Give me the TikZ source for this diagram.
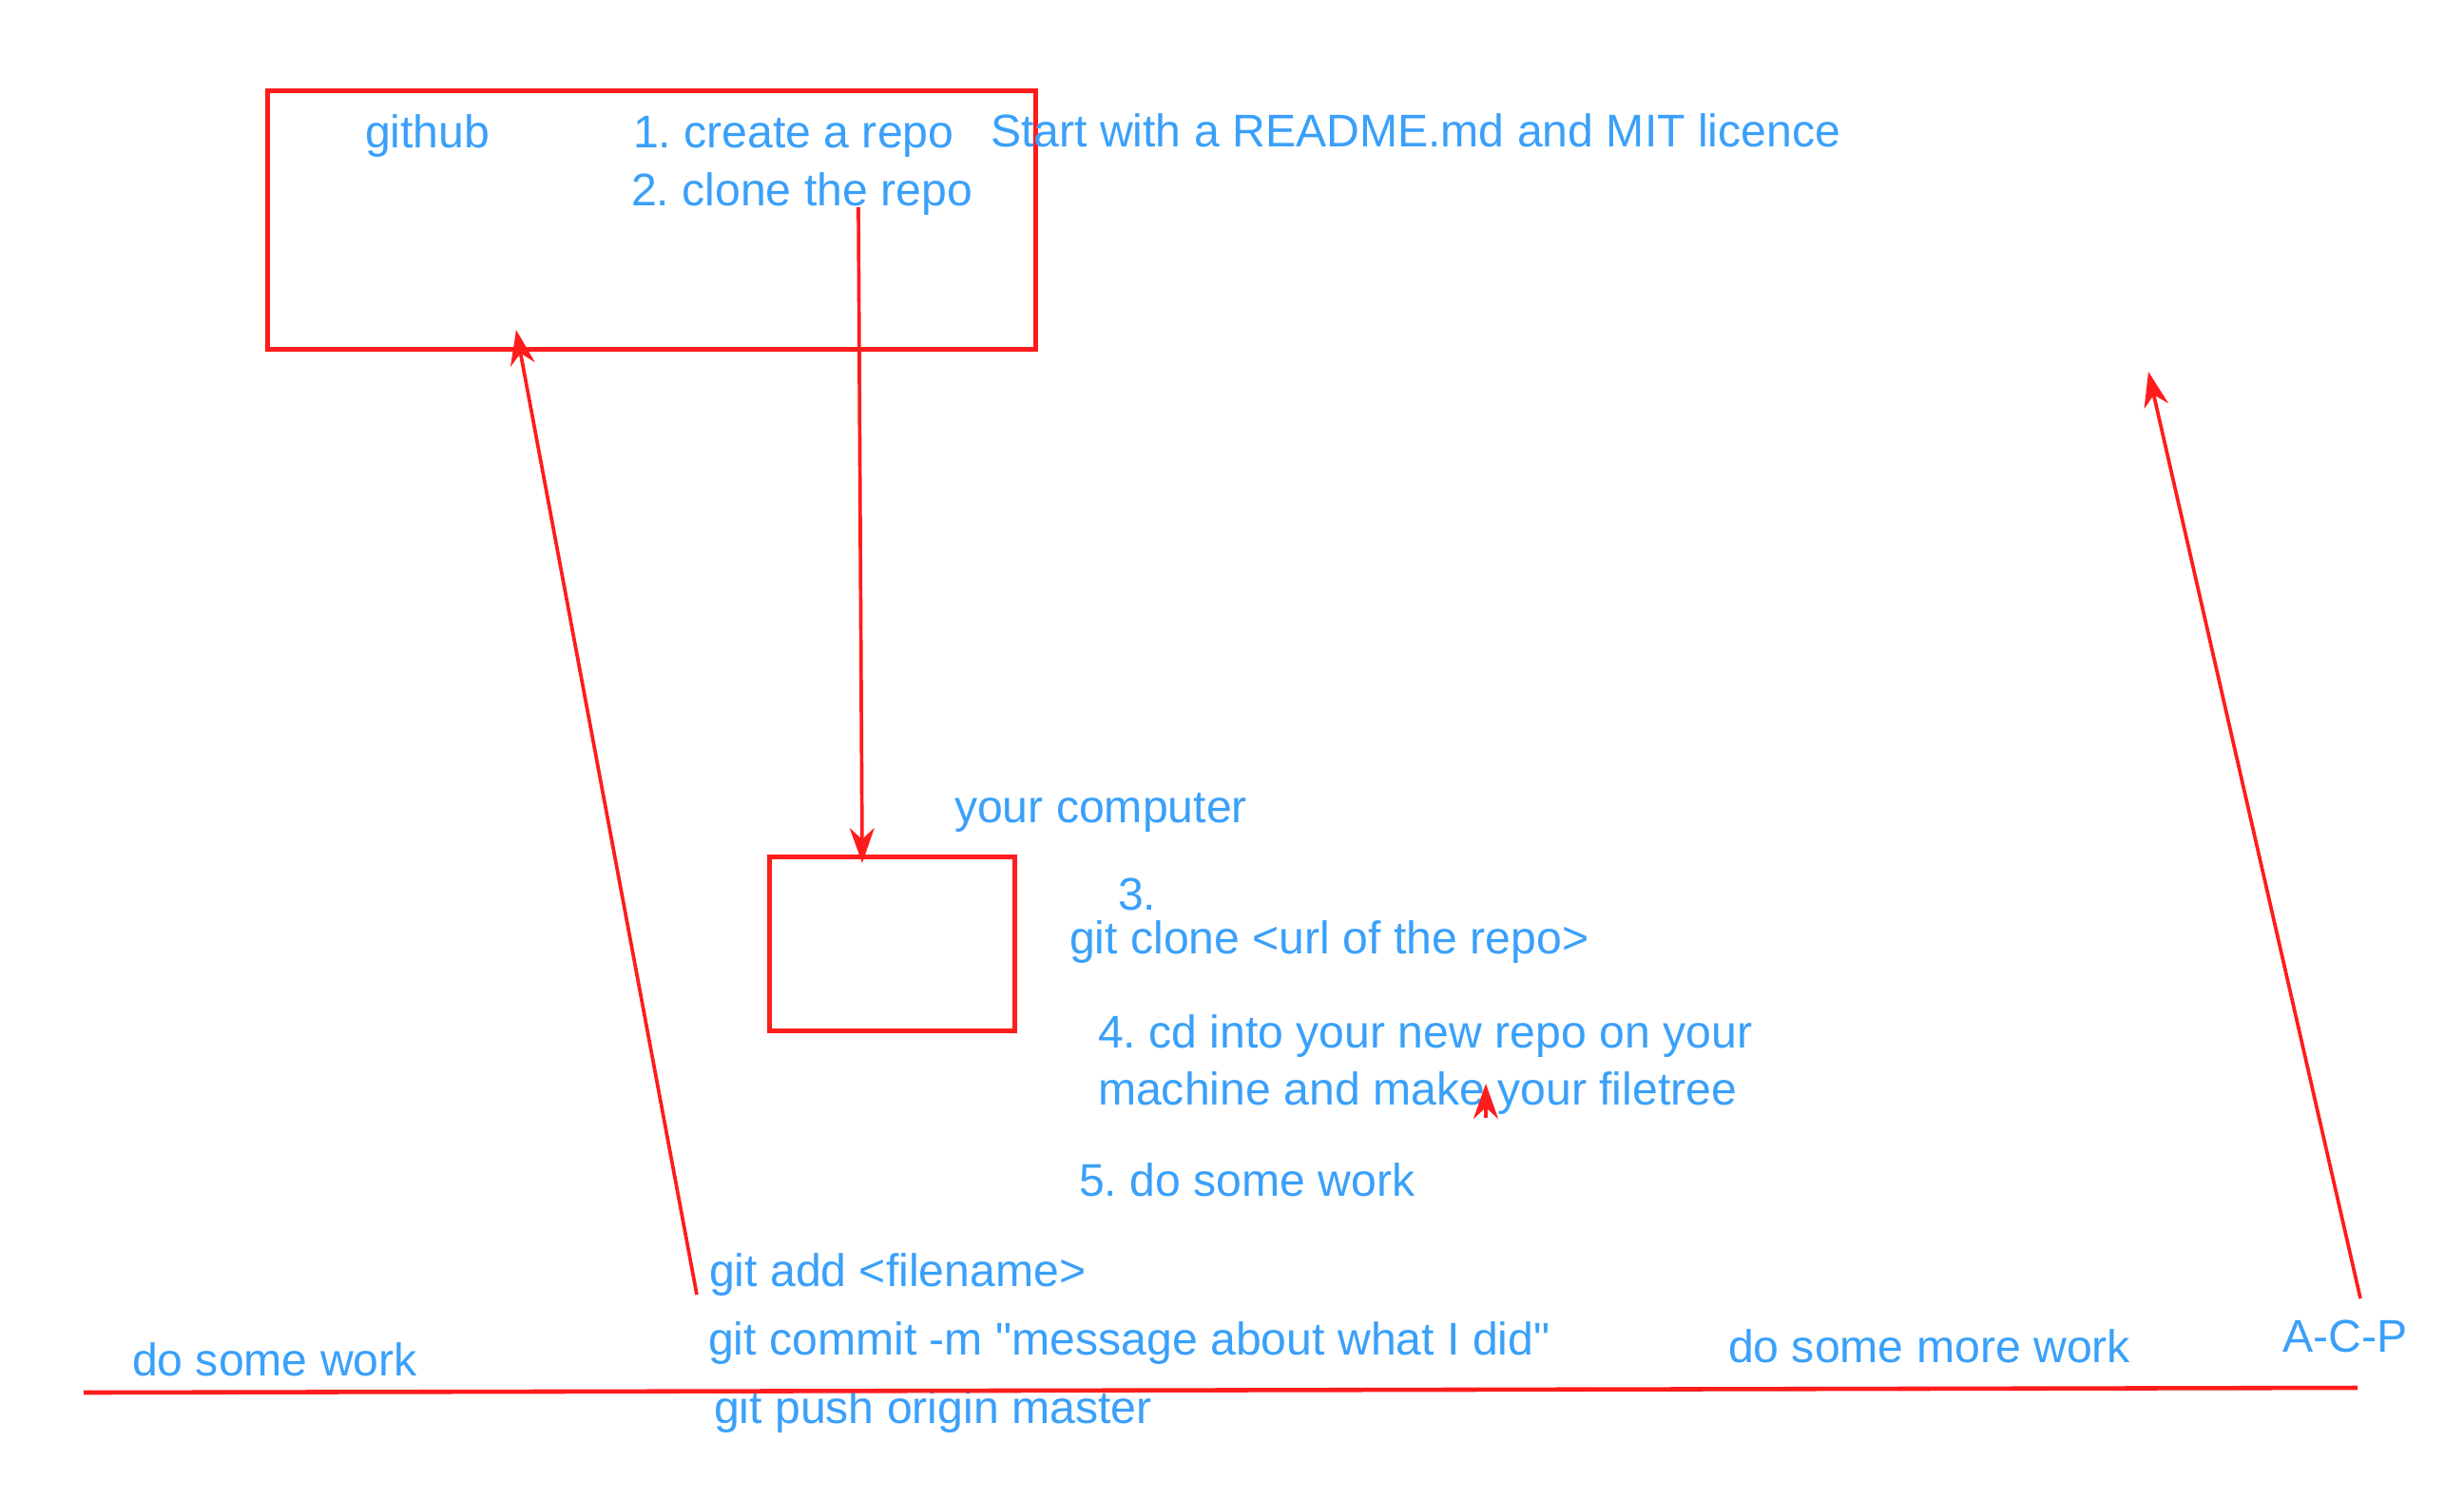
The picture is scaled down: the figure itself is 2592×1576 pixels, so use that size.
\documentclass[tikz,border=0pt]{standalone}
\usepackage{fontspec}
\setmainfont{Liberation Sans}[Ligatures=TeXOff]
\usetikzlibrary{arrows.meta}
\definecolor{txtblue}{RGB}{58,160,250}
\definecolor{linered}{RGB}{255,28,28}
\frenchspacing
\tikzset{
  lbl/.style={anchor=base west, inner sep=0pt, outer sep=0pt, text=txtblue, font=\fontsize{13.7pt}{16pt}\selectfont},
  boxr/.style={draw=linered, line width=1.35pt},
  arr/.style={draw=linered, line width=1.05pt, -{Stealth[length=0.37cm, width=0.26cm, inset=0.12cm]}},
  baseline line/.style={draw=linered, line width=1.3pt}
}
\begin{document}
\begin{tikzpicture}[x=0.01cm, y=-0.01cm]
\useasboundingbox[fill=white] (0,0) rectangle (2592,1576);
% boxes
\node[boxr, rectangle, minimum width=808*0.01cm, minimum height=272*0.01cm, anchor=north west, inner sep=0pt] (github) at (279,93) {};
\node[boxr, rectangle, minimum width=258*0.01cm, minimum height=183*0.01cm, anchor=north west, inner sep=0pt] (comp) at (807,899) {};
% texts
\node[lbl] (tgithub) at (384,156) {github};
\node[lbl] (step1) at (666,156) {1. create a repo};
\node[lbl] (step2) at (664,216) {2. clone the repo};
\node[lbl] (readme) at (1042,154) {Start with a README.md and MIT licence};
\node[lbl] (tcomp) at (1004,865) {your computer};
\node[lbl] (step3) at (1176,957) {3.};
\node[lbl] (gclone) at (1125,1003) {git clone <url of the repo>};
\node[lbl] (step4a) at (1155,1102) {4. cd into your new repo on your};
\node[lbl] (step4b) at (1155,1162) {machine and make your filetree};
\node[lbl] (step5) at (1135,1258) {5. do some work};
\node[lbl] (gadd) at (746,1353) {git add <filename>};
\node[lbl] (gcommit) at (745,1425) {git commit -m "message about what I did"};
\node[lbl] (gpush) at (751,1497) {git push origin master};
\node[lbl] (work1) at (139,1447) {do some work};
\node[lbl] (work2) at (1818,1433) {do some more work};
\node[lbl] (acp) at (2401,1422) {A-C-P};
% coordinates
\coordinate (cloneStart) at (903,218);
\coordinate (cloneEnd) at (907,908);
\coordinate (pushStart) at (733,1362);
\coordinate (pushEnd) at (543,347);
\coordinate (acpStart) at (2483,1366);
\coordinate (acpEnd) at (2260,391);
\coordinate (tinyStart) at (1563,1176);
\coordinate (tinyEnd) at (1563,1140);
\coordinate (lineL) at (88,1465);
\coordinate (lineR) at (2480,1460);
% connectors
\draw[baseline line] (lineL) -- (lineR);
\draw[arr] (cloneStart) -- (cloneEnd);
\draw[arr] (pushStart) -- (pushEnd);
\draw[arr] (acpStart) -- (acpEnd);
\draw[arr] (tinyStart) -- (tinyEnd);
\end{tikzpicture}
\end{document}
